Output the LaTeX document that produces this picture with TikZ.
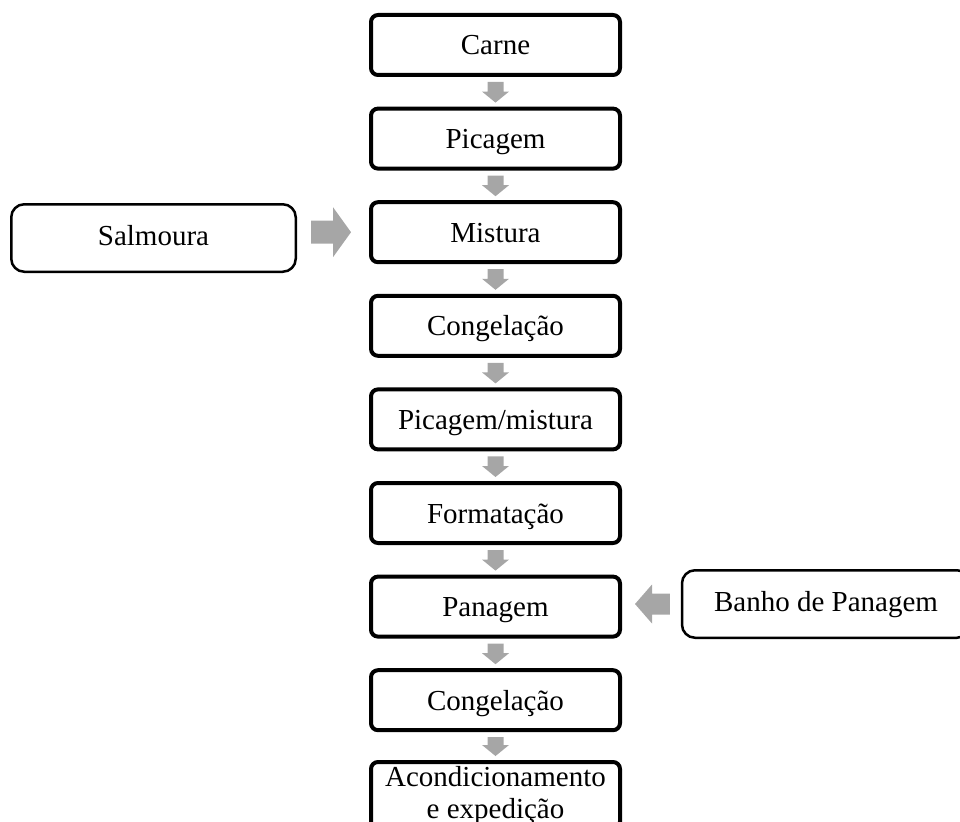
\documentclass[tikz,border=0pt]{standalone}
\usepackage{fontspec}
\setmainfont{Liberation Serif}
\usetikzlibrary{calc}
\definecolor{arrowgray}{RGB}{166,166,166}
\tikzset{
  stepbox/.style={draw=black, line width=4pt, rounded corners=7pt, fill=white,
    minimum width=249pt, minimum height=60pt, inner sep=0pt, align=center,
    text height=20pt, text depth=0pt, font=\fontsize{29}{32}\selectfont},
  inputbox/.style={draw=black, line width=2.5pt, rounded corners=13pt, fill=white,
    minimum height=67.5pt, inner sep=0pt, text height=15pt, text depth=0pt,
    font=\fontsize{29}{32}\selectfont},
  blockarrow/.style={fill=arrowgray, draw=none},
}
% block arrow pointing down, from point #1 to tip #2
\newcommand\flowdown[2]{%
  \path[blockarrow] ($(#1)+(-8pt,0)$) -- ($(#2)+(-8pt,11pt)$) -- ($(#2)+(-13.5pt,11pt)$)
    -- (#2) -- ($(#2)+(13.5pt,11pt)$) -- ($(#2)+(8pt,11pt)$) -- ($(#1)+(8pt,0)$) -- cycle;}
% horizontal block arrow from #1 to tip #2: half shaft #3, head length #4, half head #5
\newcommand\flowside[5]{%
  \path[blockarrow] let \p1=(#1), \p2=(#2), \n1={sign(\x2-\x1)} in
    (\x1,\y1+#3) -- (\x2-\n1*#4,\y1+#3) -- (\x2-\n1*#4,\y1+#5) -- (\x2,\y1)
    -- (\x2-\n1*#4,\y1-#5) -- (\x2-\n1*#4,\y1-#3) -- (\x1,\y1-#3) -- cycle;}
\begin{document}
\begin{tikzpicture}[x=1pt,y=-1pt]
  \useasboundingbox (0,0) rectangle (960,821);

  % main process column
  \node[stepbox] (carne)    at (495.5,45.0)  {Carne};
  \node[stepbox] (picagem)  at (495.5,138.6) {Picagem};
  \node[stepbox] (mistura)  at (495.5,232.2) {Mistura};
  \node[stepbox] (cong1)    at (495.5,325.8) {Congelação};
  \node[stepbox] (picmist)  at (495.5,419.4) {Picagem/mistura};
  \node[stepbox] (format)   at (495.5,513.0) {Formatação};
  \node[stepbox] (panagem)  at (495.5,606.6) {Panagem};
  \node[stepbox] (cong2)    at (495.5,700.2) {Congelação};
  \node[stepbox, minimum height=66.5pt, text height=, text depth=] (acond)
    at (495.5,795.25) {Acondicionamento\\e expedição};

  % side inputs
  \node[inputbox, minimum width=284.5pt] (salmoura) at (153.5,238) {Salmoura};
  \node[inputbox, minimum width=288pt]   (banho)    at (826,604)   {Banho de Panagem};

  % flow arrows down the column
  \foreach \a/\b in {carne/picagem, picagem/mistura, mistura/cong1, cong1/picmist,
                     picmist/format, format/panagem, panagem/cong2, cong2/acond}{
    \coordinate (from) at ([yshift=-5pt]\a.south);
    \coordinate (to) at ([yshift=4pt]\b.north);
    \flowdown{from}{to}
  }

  % input arrows
  \coordinate (salout) at ([xshift=14pt]salmoura.east);
  \coordinate (salfrom) at (salout |- mistura.west);
  \coordinate (salto) at ([xshift=-18pt]mistura.west);
  \flowside{salfrom}{salto}{11.5pt}{18pt}{25pt}

  \coordinate (banin) at ([xshift=13pt]panagem.east);
  \coordinate (banfrom) at ([xshift=-11pt]banho.west);
  \coordinate (banto) at (banin |- banho.west);
  \flowside{banfrom}{banto}{10.5pt}{17pt}{19.5pt}
\end{tikzpicture}
\end{document}
